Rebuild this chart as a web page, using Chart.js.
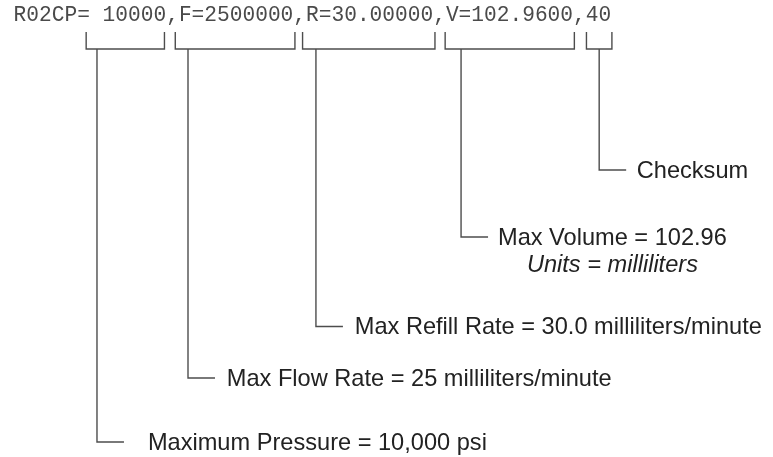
<!DOCTYPE html>
<html>
<head>
<meta charset="utf-8">
<script src="https://cdn.jsdelivr.net/npm/chart.js@4"></script>
<style>
    html, body { margin: 0; padding: 0; background: #fff; }
    #wrap { width: 773px; height: 457px; position: relative; }
</style>
</head>
<body>
<div id="wrap"><canvas id="chart"></canvas></div>
<script>
// --- DATA (x in character columns of the command string, y in rows from the top) ---
const commandFields = ['R02CP= 10000', 'F=2500000', 'R=30.00000', 'V=102.9600', '40'];
const bracketFrom = [5.7, 12.7, 22.7, 33.9, 45.0];
const bracketTo = [11.85, 22.1, 33.1, 44.05, 47.0];
const leaderCol = [6.55, 13.7, 23.75, 35.15, 46.0];
const labelRow = [442, 378, 326.5, 237, 170];
const labelCol = [10.55, 16.75, 26.8, 38.05, 48.95];
const labels = [
    'Maximum Pressure = 10,000 psi',
    'Max Flow Rate = 25 milliliters/minute',
    'Max Refill Rate = 30.0 milliliters/minute',
    'Max Volume = 102.96',
    'Checksum'
];
const subLabels = ['', '', '', 'Units = milliliters', ''];

// --- LAYOUT ---
const W = 773, H = 457;
const CHAR_W = 12.73, X0 = 13.6;
const BRACKET_TOP = 32, BRACKET_BOTTOM = 49;
const STUB = 2.12;
const LINE_COLOR = '#4d4d4d';
const LABEL_FONT = '23.6px "Liberation Sans", Arial, sans-serif';

const datasets = [];
bracketFrom.forEach((from, i) => {
    datasets.push({
        data: [
            { x: from, y: BRACKET_TOP },
            { x: from, y: BRACKET_BOTTOM },
            { x: bracketTo[i], y: BRACKET_BOTTOM },
            { x: bracketTo[i], y: BRACKET_TOP }
        ]
    });
    datasets.push({
        data: [
            { x: leaderCol[i], y: BRACKET_BOTTOM },
            { x: leaderCol[i], y: labelRow[i] },
            { x: leaderCol[i] + STUB, y: labelRow[i] }
        ]
    });
});
datasets.forEach(d => Object.assign(d, {
    showLine: true, borderColor: LINE_COLOR, borderWidth: 1.4,
    pointRadius: 0, fill: false, tension: 0
}));

const textPlugin = {
    id: 'texts',
    afterDatasetsDraw(chart) {
        const ctx = chart.ctx;
        const xs = chart.scales.x, ys = chart.scales.y;
        ctx.save();
        ctx.font = '21.2px "Liberation Mono", monospace';
        ctx.fillStyle = '#4a4a4a';
        ctx.textBaseline = 'alphabetic';
        ctx.textAlign = 'left';
        ctx.fillText(commandFields.join(','), xs.getPixelForValue(0), ys.getPixelForValue(21));

        ctx.fillStyle = '#222';
        labels.forEach((txt, i) => {
            ctx.font = LABEL_FONT;
            const x = xs.getPixelForValue(labelCol[i]);
            const y = ys.getPixelForValue(labelRow[i] + 7.8);
            ctx.fillText(txt, x, y);
            if (subLabels[i]) {
                const w = ctx.measureText(txt).width;
                ctx.font = 'italic ' + LABEL_FONT;
                ctx.textAlign = 'center';
                ctx.fillText(subLabels[i], x + w / 2, ys.getPixelForValue(labelRow[i] + 7.8 + 27));
                ctx.textAlign = 'left';
            }
        });
        ctx.restore();
    }
};

window.onload = () => {
    new Chart(document.getElementById('chart').getContext('2d'), {
        type: 'scatter',
        data: { datasets },
        options: {
            responsive: true, maintainAspectRatio: false, animation: false,
            layout: { padding: 0 },
            plugins: { legend: { display: false }, tooltip: { enabled: false } },
            scales: {
                x: { type: 'linear', display: false, min: -X0 / CHAR_W, max: (W - X0) / CHAR_W },
                y: { type: 'linear', display: false, reverse: true, min: 0, max: H }
            }
        },
        plugins: [textPlugin]
    });
};
</script>
</body>
</html>
